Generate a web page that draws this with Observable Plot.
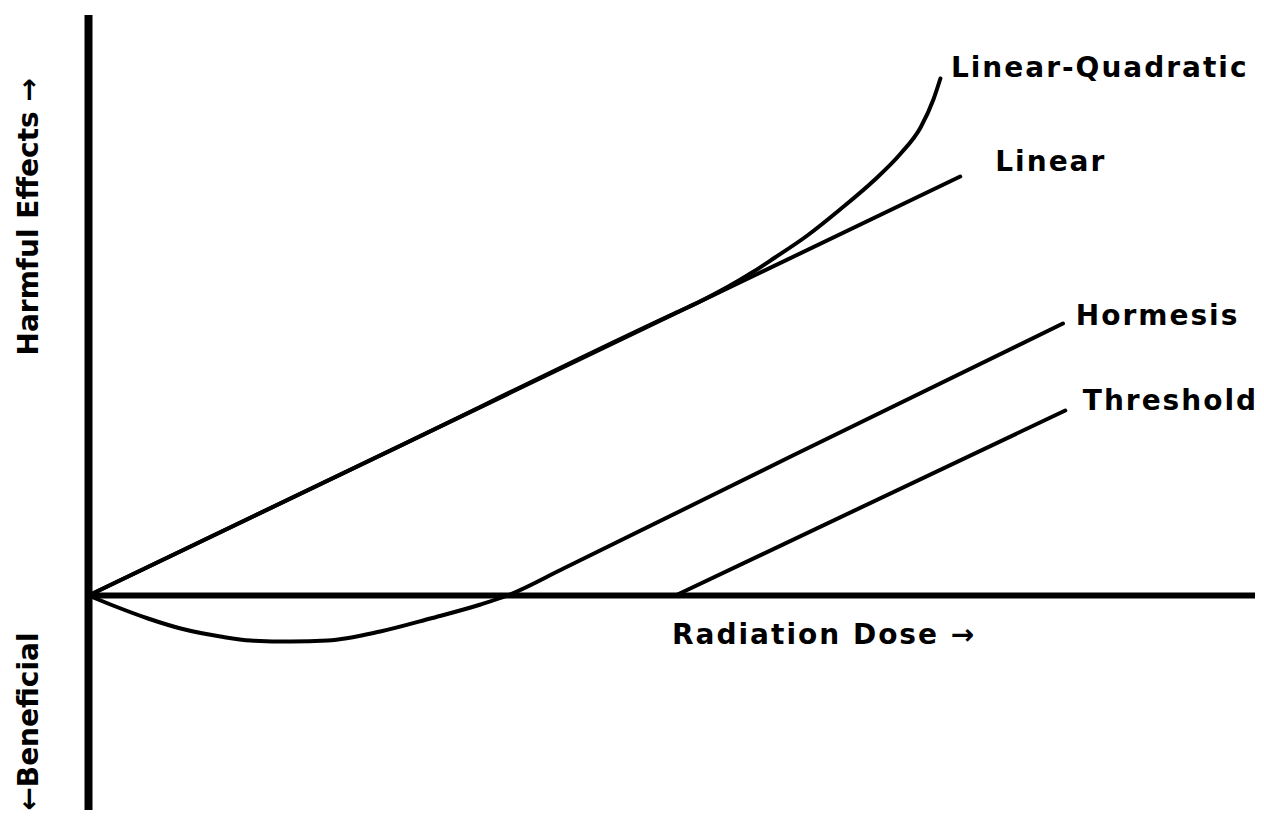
<!DOCTYPE html>
<html>
<head>
<meta charset="utf-8">
<script src="https://cdn.jsdelivr.net/npm/d3@7"></script>
<script src="https://cdn.jsdelivr.net/npm/@observablehq/plot@0.6"></script>
<style>
  html, body { margin: 0; padding: 0; background: #fff; }
  #chart { width: 1264px; height: 829px; }
</style>
</head>
<body>
<div id="chart"></div>
<script>
// ---- Data (dose and effect in arbitrary units) ----
const linearDose = [0, 7.47];
const linearEffect = [0, 4.19];

const lqDose   = [0, 2.5, 5.0, 5.24, 5.70, 5.87, 6.16, 6.44, 6.73, 6.96, 7.13, 7.24, 7.30];
const lqEffect = [0, 1.40, 2.81, 2.94, 3.24, 3.37, 3.60, 3.86, 4.15, 4.42, 4.68, 4.96, 5.17];

const hormesisDose   = [0, 0.21, 0.51, 0.79, 1.13, 1.39, 1.73, 2.05, 2.50, 2.93, 3.36, 3.59, 4.07, 6.0, 8.35];
const hormesisEffect = [0, -0.10, -0.23, -0.33, -0.41, -0.45, -0.46, -0.45, -0.36, -0.23, -0.09, 0, 0.27, 1.38, 2.72];

const thresholdDose   = [0, 5.03, 8.37];
const thresholdEffect = [0, 0, 1.85];

const seriesNames  = ["Linear-Quadratic", "Linear", "Hormesis", "Threshold"];
const labelDose    = [7.39, 7.77, 8.46, 8.52];
const labelEffect  = [5.27, 4.33, 2.79, 1.94];

const doseAxisTitle = "Radiation Dose →";
const doseAxisTitlePos = [5.0, -0.40];
const harmfulTitle = "Harmful Effects →";
const beneficialTitle = "←Beneficial";
const sideTitleDose = -0.51;
const harmfulStart = 2.40;
const beneficialEnd = -0.37;

const doseDomain = [0, 10];
const effectDomain = [-2.2, 5.8];
const effectAxisExtent = [-2.15, 5.8];

// ---- Build tables ----
const toRows = (xs, ys) => xs.map((d, i) => ({dose: d, effect: ys[i]}));
const linear = toRows(linearDose, linearEffect);
const lq = toRows(lqDose, lqEffect);
const hormesis = toRows(hormesisDose, hormesisEffect);
const threshold = toRows(thresholdDose, thresholdEffect);
const labels = seriesNames.map((name, i) => ({name, dose: labelDose[i], effect: labelEffect[i]}));

const font = {fontFamily: "DejaVu Sans", fontWeight: "bold", fontSize: 28, fill: "black"};
const lineStyle = {x: "dose", y: "effect", stroke: "black", strokeWidth: 4, strokeLinecap: "round", strokeLinejoin: "round"};

const chart = Plot.plot({
  width: 1264,
  height: 829,
  marginLeft: 88,
  marginRight: 9,
  marginTop: 15,
  marginBottom: 14,
  x: {domain: doseDomain, axis: null},
  y: {domain: effectDomain, axis: null},
  style: {background: "white", letterSpacing: "2px"},
  marks: [
    // axes
    Plot.ruleX([0], {y1: effectAxisExtent[0], y2: effectAxisExtent[1], stroke: "black", strokeWidth: 8}),
    Plot.ruleY([0], {x1: doseDomain[0], x2: doseDomain[1], stroke: "black", strokeWidth: 6}),
    // curves
    Plot.line(threshold, {...lineStyle}),
    Plot.line(linear, {...lineStyle}),
    Plot.line(lq, {...lineStyle, curve: "monotone-x"}),
    Plot.line(hormesis, {...lineStyle, curve: "monotone-x"}),
    // series labels
    Plot.text(labels, {x: "dose", y: "effect", text: "name", textAnchor: "start", ...font}),
    // axis titles
    Plot.text([doseAxisTitle], {x: doseAxisTitlePos[0], y: doseAxisTitlePos[1], text: d => d, textAnchor: "start", ...font}),
    Plot.text([harmfulTitle], {x: sideTitleDose, y: harmfulStart, text: d => d, rotate: -90, textAnchor: "start", ...font}),
    Plot.text([beneficialTitle], {x: sideTitleDose, y: beneficialEnd, text: d => d, rotate: -90, textAnchor: "end", ...font})
  ]
});

document.getElementById("chart").appendChild(chart);
// rotated side titles are set tight (no extra tracking)
d3.select(chart).selectAll("text")
  .filter(function() { return (this.getAttribute("transform") || "").includes("rotate"); })
  .style("letter-spacing", "0px");
</script>
</body>
</html>
